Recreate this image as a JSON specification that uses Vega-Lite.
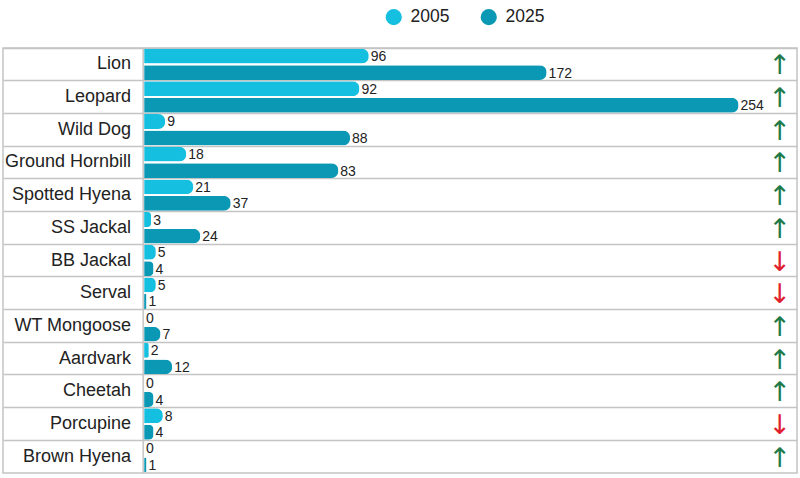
{
  "$schema": "https://vega.github.io/schema/vega-lite/v6.json",
  "width": 800,
  "height": 478,
  "autosize": {"type": "fit", "contains": "padding"},
  "padding": {"left": 3, "right": 3, "top": 47, "bottom": 4},
  "background": "white",
  "config": {
    "font": "Liberation Sans",
    "view": {"stroke": "#c4c4c4", "strokeWidth": 1.5},
    "legend": {
      "labelFont": "Liberation Sans",
      "labelFontSize": 17.5,
      "labelColor": "#222222"
    }
  },
  "datasets": {
    "counts": [
      {"animal": "Lion", "year": "2005", "count": 96},
      {"animal": "Lion", "year": "2025", "count": 172},
      {"animal": "Leopard", "year": "2005", "count": 92},
      {"animal": "Leopard", "year": "2025", "count": 254},
      {"animal": "Wild Dog", "year": "2005", "count": 9},
      {"animal": "Wild Dog", "year": "2025", "count": 88},
      {"animal": "Ground Hornbill", "year": "2005", "count": 18},
      {"animal": "Ground Hornbill", "year": "2025", "count": 83},
      {"animal": "Spotted Hyena", "year": "2005", "count": 21},
      {"animal": "Spotted Hyena", "year": "2025", "count": 37},
      {"animal": "SS Jackal", "year": "2005", "count": 3},
      {"animal": "SS Jackal", "year": "2025", "count": 24},
      {"animal": "BB Jackal", "year": "2005", "count": 5},
      {"animal": "BB Jackal", "year": "2025", "count": 4},
      {"animal": "Serval", "year": "2005", "count": 5},
      {"animal": "Serval", "year": "2025", "count": 1},
      {"animal": "WT Mongoose", "year": "2005", "count": 0},
      {"animal": "WT Mongoose", "year": "2025", "count": 7},
      {"animal": "Aardvark", "year": "2005", "count": 2},
      {"animal": "Aardvark", "year": "2025", "count": 12},
      {"animal": "Cheetah", "year": "2005", "count": 0},
      {"animal": "Cheetah", "year": "2025", "count": 4},
      {"animal": "Porcupine", "year": "2005", "count": 8},
      {"animal": "Porcupine", "year": "2025", "count": 4},
      {"animal": "Brown Hyena", "year": "2005", "count": 0},
      {"animal": "Brown Hyena", "year": "2025", "count": 1}
    ],
    "species": [
      {"animal": "Lion", "trend": "up", "arrow": "↑"},
      {"animal": "Leopard", "trend": "up", "arrow": "↑"},
      {"animal": "Wild Dog", "trend": "up", "arrow": "↑"},
      {"animal": "Ground Hornbill", "trend": "up", "arrow": "↑"},
      {"animal": "Spotted Hyena", "trend": "up", "arrow": "↑"},
      {"animal": "SS Jackal", "trend": "up", "arrow": "↑"},
      {"animal": "BB Jackal", "trend": "down", "arrow": "↓"},
      {"animal": "Serval", "trend": "down", "arrow": "↓"},
      {"animal": "WT Mongoose", "trend": "up", "arrow": "↑"},
      {"animal": "Aardvark", "trend": "up", "arrow": "↑"},
      {"animal": "Cheetah", "trend": "up", "arrow": "↑"},
      {"animal": "Porcupine", "trend": "down", "arrow": "↓"},
      {"animal": "Brown Hyena", "trend": "up", "arrow": "↑"}
    ],
    "divider": [{"at": -0.4}]
  },
  "layer": [
    {
      "data": {"name": "counts"},
      "mark": {"type": "bar", "cornerRadiusEnd": 7},
      "encoding": {
        "y": {
          "field": "animal",
          "type": "nominal",
          "title": null,
          "scale": {
            "domain": ["Lion", "Leopard", "Wild Dog", "Ground Hornbill", "Spotted Hyena", "SS Jackal", "BB Jackal", "Serval", "WT Mongoose", "Aardvark", "Cheetah", "Porcupine", "Brown Hyena"],
            "paddingInner": 0,
            "paddingOuter": 0
          },
          "axis": {
            "grid": true,
            "bandPosition": 0,
            "gridColor": "#c4c4c4",
            "gridWidth": 1.5,
            "labels": false,
            "ticks": false,
            "domain": false
          }
        },
        "x": {
          "field": "count",
          "type": "quantitative",
          "title": null,
          "scale": {"domain": [-60.3, 279], "nice": false, "zero": false},
          "axis": null
        },
        "yOffset": {
          "field": "year",
          "type": "nominal",
          "scale": {"paddingInner": 0.1, "paddingOuter": 0.04}
        },
        "color": {
          "field": "year",
          "type": "nominal",
          "title": null,
          "scale": {"domain": ["2005", "2025"], "range": ["#14bfe0", "#0b98b5"]},
          "legend": {
            "orient": "none",
            "direction": "horizontal",
            "legendX": 382,
            "legendY": -40,
            "symbolType": "circle",
            "symbolSize": 260,
            "symbolStrokeWidth": 0,
            "labelOffset": 8,
            "columnPadding": 30
          }
        }
      }
    },
    {
      "data": {"name": "divider"},
      "mark": {"type": "rule", "color": "#c4c4c4", "strokeWidth": 1.5},
      "encoding": {
        "x": {"field": "at", "type": "quantitative"}
      }
    },
    {
      "data": {"name": "counts"},
      "mark": {"type": "text", "align": "left", "baseline": "middle", "dx": 2, "dy": 1, "fontSize": 14, "color": "#222222"},
      "encoding": {
        "y": {"field": "animal", "type": "nominal"},
        "x": {"field": "count", "type": "quantitative"},
        "yOffset": {"field": "year", "type": "nominal"},
        "text": {"field": "count", "type": "quantitative"}
      }
    },
    {
      "data": {"name": "species"},
      "mark": {"type": "text", "align": "right", "baseline": "middle", "dx": -13, "fontSize": 18, "color": "#222222"},
      "encoding": {
        "y": {"field": "animal", "type": "nominal"},
        "x": {"datum": 0, "type": "quantitative"},
        "text": {"field": "animal"}
      }
    },
    {
      "data": {"name": "species"},
      "mark": {"type": "text", "align": "center", "baseline": "middle", "dy": 2, "fontSize": 27, "font": "DejaVu Sans"},
      "encoding": {
        "y": {"field": "animal", "type": "nominal"},
        "x": {"datum": 271.7, "type": "quantitative"},
        "text": {"field": "arrow"},
        "color": {
          "condition": {"test": "datum.trend === 'up'", "value": "#1f7a4a"},
          "value": "#e0202e"
        }
      }
    }
  ]
}
